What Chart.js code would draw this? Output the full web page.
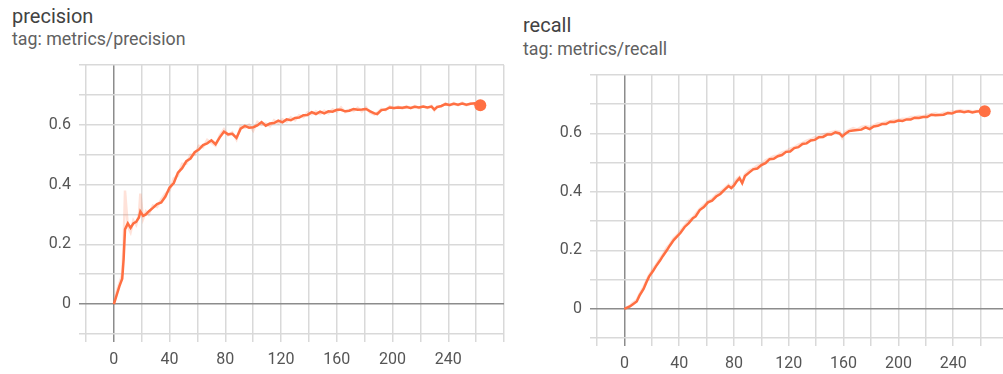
<!DOCTYPE html>
<html>
<head>
<meta charset="utf-8">
<script src="https://cdn.jsdelivr.net/npm/chart.js@4"></script>
<style>
  html, body { margin: 0; padding: 0; overflow: hidden; background: #fff; }
  body { width: 1003px; height: 374px; position: relative; font-family: Roboto, sans-serif; }
  .title { position: absolute; font-size: 20px; line-height: 24px; color: #424242; white-space: nowrap; }
  .tag { position: absolute; font-size: 17.8px; line-height: 20px; color: #616161; white-space: nowrap; }
  canvas { position: absolute; top: 0; }
</style>
</head>
<body>
<div class="title" style="left:12px; top:4px;">precision</div>
<div class="tag" style="left:12px; top:29px;">tag: metrics/precision</div>
<div class="title" style="left:523px; top:13px;">recall</div>
<div class="tag" style="left:523px; top:39px;">tag: metrics/recall</div>
<canvas id="precChart" width="512" height="374" style="left:0px;"></canvas>
<canvas id="recChart" width="506" height="374" style="left:510px;"></canvas>
<script>
// epochs (x) and values
var precEpochs = [0, 2, 4, 6, 7, 8, 10, 12, 14, 16, 18, 19, 21, 23, 25, 28, 31, 34, 37, 40, 43, 46, 49, 52, 55, 58, 61, 64, 67, 70, 73, 76, 79, 82, 85, 88, 91, 94, 97, 100, 103, 106, 109, 112, 115, 118, 121, 124, 127, 130, 133, 136, 139, 142, 145, 148, 151, 154, 157, 160, 163, 166, 169, 172, 175, 178, 181, 184, 187, 189, 192, 195, 198, 201, 204, 207, 210, 213, 216, 219, 222, 225, 228, 230, 232, 235, 238, 241, 244, 247, 250, 253, 256, 259, 261, 263];
var precSmooth = [0, 0.03, 0.06, 0.085, 0.15, 0.25, 0.27, 0.255, 0.27, 0.275, 0.29, 0.31, 0.295, 0.3, 0.31, 0.322, 0.335, 0.34, 0.36,
    0.39, 0.405, 0.44, 0.455, 0.478, 0.487, 0.508, 0.517, 0.532, 0.538, 0.548, 0.535, 0.558, 0.577, 0.568, 0.57, 0.556, 0.587, 0.596, 0.59,
    0.592, 0.598, 0.609, 0.597, 0.604, 0.606, 0.614, 0.608, 0.618, 0.615, 0.623, 0.624, 0.632, 0.633, 0.642, 0.636, 0.644, 0.638, 0.645, 0.644,
    0.65, 0.65, 0.645, 0.647, 0.653, 0.65, 0.651, 0.653, 0.645, 0.638, 0.636,
    0.649, 0.651, 0.658, 0.656, 0.658, 0.657, 0.659, 0.656, 0.66, 0.658, 0.661, 0.658, 0.661, 0.651, 0.659,
    0.663, 0.669, 0.666, 0.67, 0.667, 0.671, 0.667, 0.67, 0.672, 0.666, 0.665];
var precRaw = [0, 0.04, 0.07, 0.1, 0.2, 0.38, 0.26, 0.24, 0.28, 0.265, 0.3, 0.37, 0.285, 0.31, 0.3, 0.33, 0.325, 0.35, 0.37, 0.38, 0.42, 0.43, 0.47, 0.47, 0.5, 0.5, 0.53, 0.525, 0.55, 0.54, 0.53, 0.565, 0.585, 0.565, 0.575, 0.55, 0.595, 0.59, 0.6, 0.58, 0.61, 0.6, 0.605, 0.595, 0.615, 0.605, 0.618, 0.61, 0.625, 0.615, 0.632, 0.625, 0.642, 0.635, 0.645, 0.636, 0.647, 0.638, 0.652, 0.644, 0.658, 0.642, 0.65, 0.646, 0.657, 0.644, 0.658, 0.64, 0.634, 0.64, 0.653, 0.648, 0.662, 0.654, 0.661, 0.654, 0.662, 0.655, 0.663, 0.656, 0.662, 0.656, 0.663, 0.648, 0.662, 0.661, 0.672, 0.664, 0.673, 0.665, 0.674, 0.665, 0.672, 0.668, 0.669, 0.665];

var recEpochs = [0, 2, 4, 6, 9, 11, 14, 16, 18, 21, 23, 26, 28, 31, 33, 36, 38, 41, 44, 47, 50, 52, 55, 58, 61, 64, 67, 70, 73, 76, 78, 80, 82, 84, 86, 88, 91, 94, 97, 100, 103, 106, 109, 112, 115, 118, 121, 124, 127, 130, 133, 136, 139, 142, 145, 148, 151, 154, 157, 159, 161, 164, 167, 170, 173, 176, 179, 182, 185, 188, 191, 194, 197, 200, 203, 206, 209, 212, 215, 218, 221, 224, 227, 230, 233, 236, 239, 242, 245, 248, 251, 254, 257, 260, 263];
var recSmooth = [0, 0.004, 0.008, 0.015, 0.025, 0.045, 0.068, 0.09, 0.11, 0.13, 0.145, 0.165, 0.18, 0.2, 0.215, 0.235, 0.245,
    0.26, 0.28, 0.293, 0.31, 0.316, 0.338, 0.348, 0.364, 0.37, 0.384, 0.393, 0.407, 0.42, 0.413, 0.422, 0.436, 0.447, 0.43, 0.454,
    0.466, 0.477, 0.48, 0.492, 0.498, 0.512, 0.513, 0.522, 0.526, 0.537, 0.538, 0.55, 0.553, 0.564, 0.566, 0.576, 0.578, 0.587, 0.588, 0.596, 0.596, 0.604, 0.6,
    0.59, 0.598,
    0.608, 0.61, 0.612, 0.613, 0.621, 0.615, 0.624, 0.626, 0.632, 0.632, 0.64, 0.639, 0.644, 0.643, 0.648, 0.648, 0.654, 0.653, 0.656, 0.656,
    0.664, 0.662, 0.663, 0.664, 0.67, 0.668, 0.674, 0.676, 0.673, 0.676, 0.672, 0.675, 0.676, 0.676];
var recRaw = [0, 0.006, 0.01, 0.02, 0.03, 0.05, 0.075, 0.095, 0.115, 0.138, 0.15, 0.172, 0.185, 0.21, 0.22, 0.242, 0.25, 0.268, 0.285, 0.302, 0.312, 0.325, 0.342, 0.355, 0.368, 0.376, 0.39, 0.4, 0.412, 0.425, 0.418, 0.43, 0.445, 0.452, 0.43, 0.46, 0.474, 0.48, 0.49, 0.495, 0.508, 0.515, 0.522, 0.525, 0.535, 0.54, 0.548, 0.553, 0.562, 0.568, 0.575, 0.58, 0.587, 0.59, 0.597, 0.6, 0.604, 0.608, 0.606, 0.585, 0.605, 0.612, 0.618, 0.614, 0.622, 0.625, 0.622, 0.628, 0.635, 0.634, 0.64, 0.642, 0.646, 0.646, 0.65, 0.65, 0.656, 0.656, 0.66, 0.658, 0.664, 0.666, 0.669, 0.664, 0.671, 0.672, 0.675, 0.676, 0.68, 0.677, 0.678, 0.676, 0.677, 0.678, 0.676];

var xTickLabels = [0, 40, 80, 120, 160, 200, 240];
var yTickLabels = [0, 0.2, 0.4, 0.6];

var lineColor = "#ff7043";

function toPoints(xs, ys) {
    return xs.map((x, i) => ({ x: x, y: ys[i] }));
}

function makeConfig(epochs, smooth, raw, yAxisWidth, xAxisHeight, padTop, padRight) {
    var n = epochs.length;
    return {
        type: "line",
        data: {
            datasets: [
                {
                    data: toPoints(epochs, raw),
                    borderColor: "rgba(255, 112, 67, 0.2)",
                    borderWidth: 2.5,
                    pointRadius: 0,
                    tension: 0
                },
                {
                    data: toPoints(epochs, smooth),
                    borderColor: lineColor,
                    backgroundColor: lineColor,
                    borderWidth: 2.5,
                    pointRadius: ctx => ctx.dataIndex === n - 1 ? 6 : 0,
                    pointBorderWidth: 0,
                    tension: 0
                }
            ]
        },
        options: {
            responsive: false,
            animation: false,
            devicePixelRatio: 1,
            layout: { padding: { top: padTop, right: padRight, left: 0, bottom: 0 } },
            plugins: { legend: { display: false }, tooltip: { enabled: false } },
            scales: {
                x: {
                    type: "linear",
                    min: -20,
                    max: 280,
                    border: { display: false },
                    grid: {
                        color: ctx => ctx.tick && ctx.tick.value === 0 ? "#8c8c8c" : "#d9d9d9",
                        lineWidth: 1.5,
                        tickLength: 8
                    },
                    ticks: {
                        stepSize: 20,
                        autoSkip: false,
                        maxRotation: 0,
                        padding: 8,
                        color: "#555",
                        font: { family: "Roboto", size: 16 },
                        callback: v => xTickLabels.includes(v) ? String(v) : ""
                    },
                    afterFit: s => { s.height = xAxisHeight; }
                },
                y: {
                    min: -0.1,
                    max: 0.8,
                    border: { display: false },
                    grid: {
                        color: ctx => ctx.tick && Math.abs(ctx.tick.value) < 1e-9 ? "#8c8c8c" : "#d9d9d9",
                        lineWidth: 1.5,
                        tickLength: 7
                    },
                    ticks: {
                        stepSize: 0.1,
                        autoSkip: false,
                        padding: 8,
                        color: "#555",
                        font: { family: "Roboto", size: 16 },
                        callback: v => {
                            var hit = yTickLabels.find(t => Math.abs(t - v) < 1e-9);
                            return hit === undefined ? "" : String(hit);
                        }
                    },
                    afterFit: s => { s.width = yAxisWidth; }
                }
            }
        }
    };
}

new Chart(document.getElementById("precChart"), makeConfig(precEpochs, precSmooth, precRaw, 86, 40, 65, 2));
new Chart(document.getElementById("recChart"), makeConfig(recEpochs, recSmooth, recRaw, 87, 36, 75, 3));
</script>
</body>
</html>
